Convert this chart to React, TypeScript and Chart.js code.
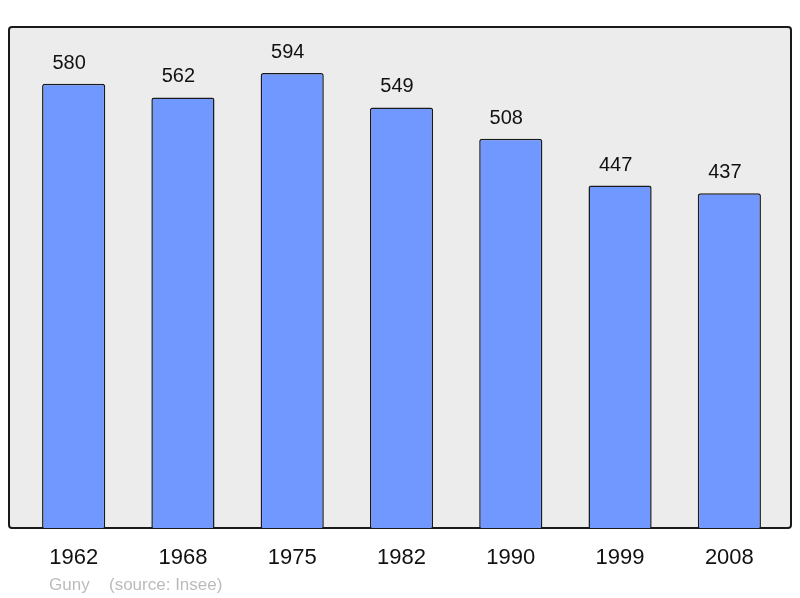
import React, { useEffect, useRef } from "react";
import { Chart, registerables } from "chart.js";

Chart.register(...registerables);

const years = ["1962", "1968", "1975", "1982", "1990", "1999", "2008"];
const population = [580, 562, 594, 549, 508, 447, 437];
const footerName = "Guny";
const footerSource = "(source: Insee)";

const BOX = { left: 9, top: 27, right: 791, bottom: 528 };

const framePlugin = {
  id: "frame",
  beforeDatasetsDraw(chart: any) {
    const ctx = chart.ctx;
    ctx.save();
    const { left, top, right, bottom } = BOX;
    ctx.beginPath();
    (ctx as any).roundRect(left, top, right - left, bottom - top, 3);
    ctx.fillStyle = "#ececec";
    ctx.fill();
    ctx.lineWidth = 2;
    ctx.strokeStyle = "#1a1a1a";
    ctx.stroke();
    ctx.restore();
  },
  afterDatasetsDraw(chart: any) {
    const ctx = chart.ctx;
    const meta = chart.getDatasetMeta(0);
    ctx.save();
    ctx.font = '20px "Liberation Sans", Arial, sans-serif';
    ctx.fillStyle = "#111";
    ctx.textAlign = "center";
    ctx.textBaseline = "alphabetic";
    meta.data.forEach((bar: any, i: number) => {
      ctx.fillText(String(population[i]), bar.x - 4.5, bar.y - 15);
    });
    ctx.font = '17px "Liberation Sans", Arial, sans-serif';
    ctx.fillStyle = "#bbbbbb";
    ctx.textAlign = "left";
    ctx.fillText(footerName, 49, 590);
    ctx.fillText(footerSource, 109, 590);
    ctx.restore();
  },
};

export default function App() {
  const ref = useRef<HTMLCanvasElement>(null);
  useEffect(() => {
    if (!ref.current) return;
    const chart = new Chart(ref.current, {
      type: "bar",
      data: {
        labels: years,
        datasets: [
          {
            data: population,
            backgroundColor: "#7098ff",
            borderColor: "#1a1a1a",
            borderWidth: 1.5,
            borderRadius: 2.5,
            borderSkipped: "bottom",
            barPercentage: 0.578,
            categoryPercentage: 1,
          },
        ],
      },
      options: {
        animation: false,
        responsive: false,
        maintainAspectRatio: false,
        layout: { padding: { left: 19, right: 16, top: 27, bottom: 0 } },
        plugins: {
          legend: { display: false },
          tooltip: { enabled: false },
        },
        scales: {
          x: {
            grid: { display: false },
            border: { display: false },
            ticks: {
              color: "#111",
              font: { size: 22, family: '"Liberation Sans", Arial, sans-serif' },
              padding: 9,
            },
            afterFit: (scale: any) => {
              scale.height = 70;
            },
          },
          y: {
            display: false,
            min: 0,
            max: 654,
          },
        },
      },
      plugins: [framePlugin],
    });
    return () => chart.destroy();
  }, []);
  return (
    <div style={{ position: "fixed", left: 0, top: 0, width: 800, height: 598, background: "#fff" }}>
      <canvas ref={ref} width={800} height={598} style={{ width: 800, height: 598, display: "block" }} />
    </div>
  );
}
